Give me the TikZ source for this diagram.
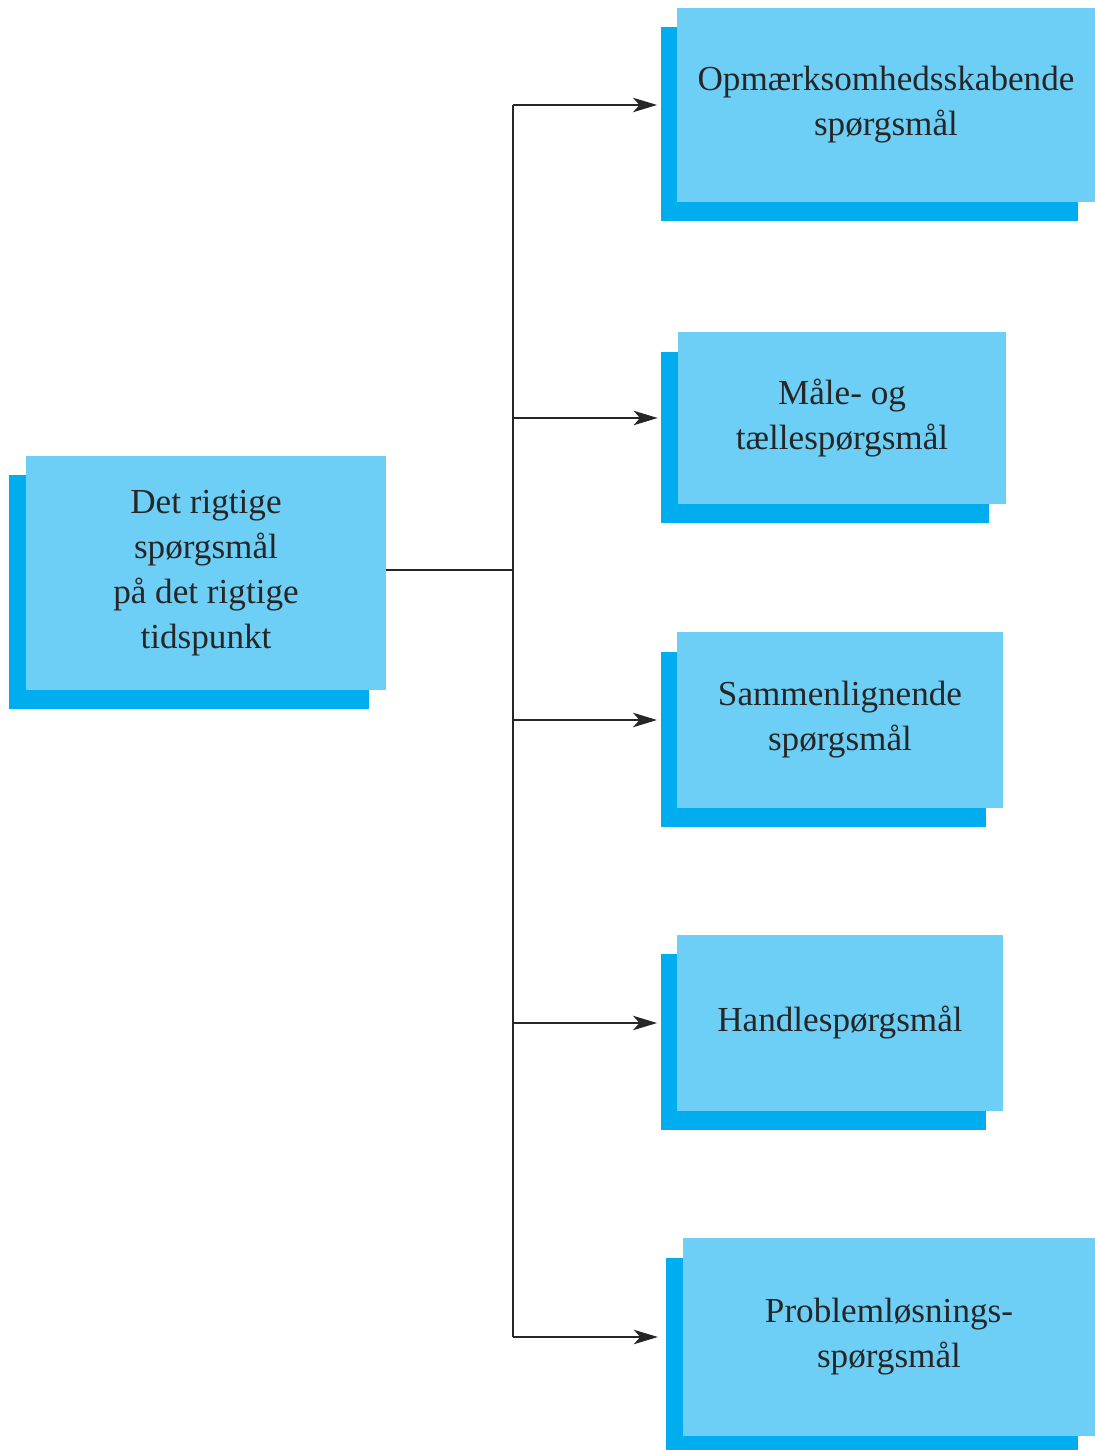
\documentclass[tikz,border=0pt]{standalone}
\usepackage{fontspec}
\setmainfont{Liberation Serif}
\usepackage{tikz}
\usetikzlibrary{positioning,shadows,arrows.meta}

\definecolor{qlight}{HTML}{6DCFF6}
\definecolor{qdark}{HTML}{00AEEF}

\begin{document}
\begin{tikzpicture}[x=0.025cm, y=-0.025cm]
  \tikzset{
    qbox/.style={fill=qlight, align=center, text=black!85,
      font=\fontsize{25}{32}\selectfont, inner sep=0pt,
      general shadow={fill=qdark, shadow xshift=-0.42cm, shadow yshift=-0.48cm}},
    link/.style={line width=1.5pt, black!85},
    arrow/.style={link, -{Stealth[length=0.6cm, width=0.36cm, inset=0.16cm]}, shorten >=0.5cm}
  }
  \useasboundingbox (0,0) rectangle (1095,1450);

  \node[qbox, minimum width=9cm, minimum height=5.85cm] (main) at (206,573)
    {Det rigtige\\spørgsmål\\på det rigtige\\tidspunkt};
  \node[qbox, minimum width=10.43cm, minimum height=4.85cm] (attention) at (886,105)
    {Opmærksomhedsskabende\\spørgsmål};
  \node[qbox, minimum width=8.2cm, minimum height=4.28cm] (measure) at (842,418)
    {Måle- og\\tællespørgsmål};
  \node[qbox, minimum width=8.13cm, minimum height=4.38cm] (compare) at (840,720)
    {Sammenlignende\\spørgsmål};
  \node[qbox, minimum width=8.13cm, minimum height=4.4cm] (action) at (840,1023)
    {Handlespørgsmål};
  \node[qbox, minimum width=10.3cm, minimum height=4.93cm] (problem) at (889,1337)
    {Problemløsnings-\\spørgsmål};

  \coordinate (trunk) at (513,570);

  \draw[link] (main.east |- trunk) -- (trunk);
  \draw[link] (attention.west -| trunk) -- (problem.west -| trunk);
  \draw[arrow] (attention.west -| trunk) -- (attention.west);
  \draw[arrow] (measure.west -| trunk) -- (measure.west);
  \draw[arrow] (compare.west -| trunk) -- (compare.west);
  \draw[arrow] (action.west -| trunk) -- (action.west);
  \draw[arrow, shorten >=0.62cm] (problem.west -| trunk) -- (problem.west);
\end{tikzpicture}
\end{document}
